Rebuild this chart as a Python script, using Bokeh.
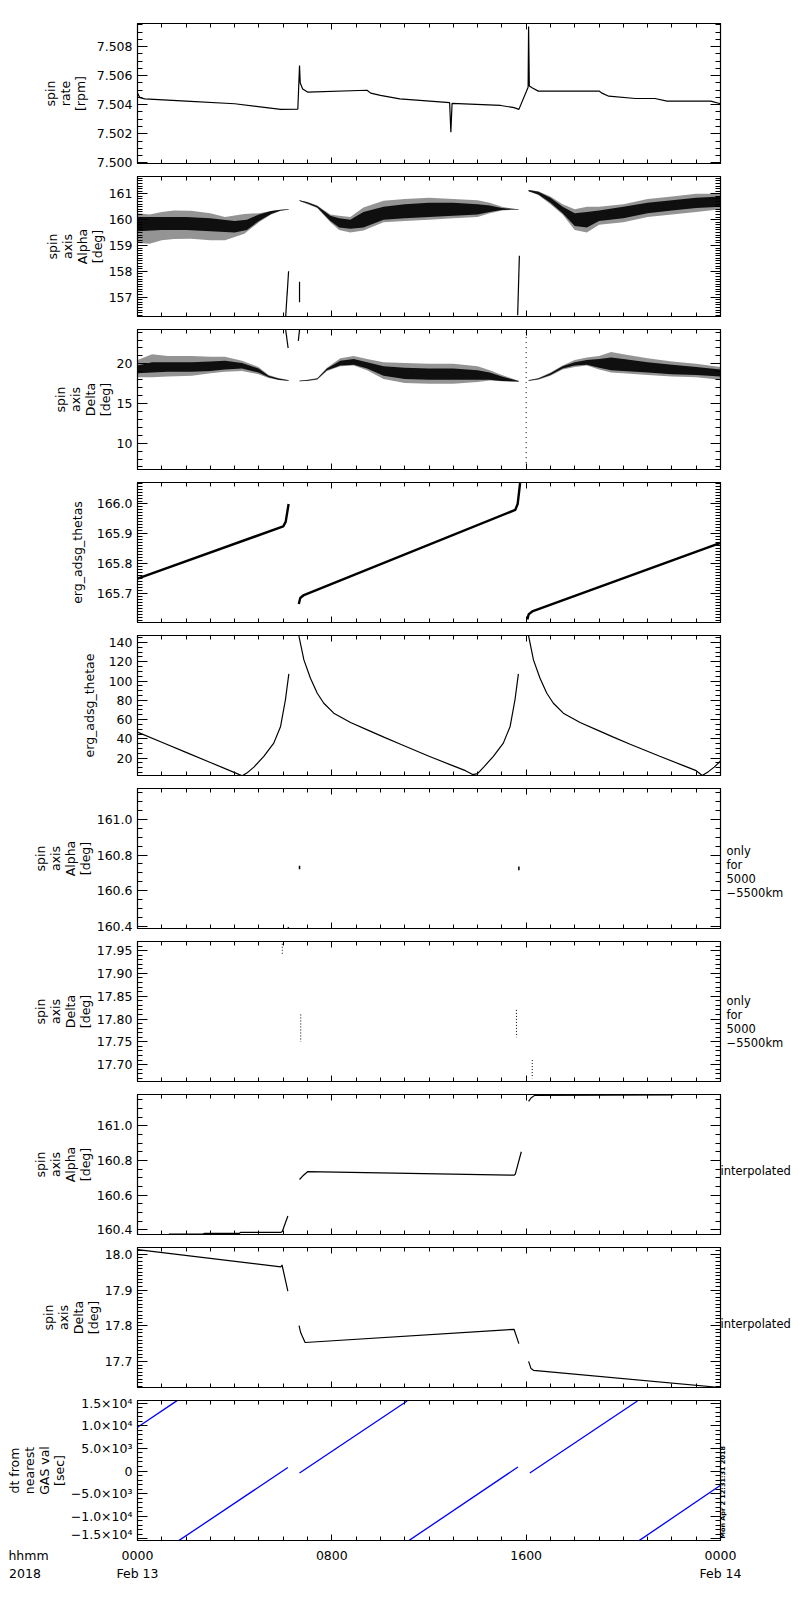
import math
from bokeh.plotting import figure
from bokeh.models import (LinearAxis, SingleIntervalTicker, FixedTicker, Range1d,
                          NumeralTickFormatter, CustomJSTickFormatter)
from bokeh.layouts import column, row
from bokeh.embed import file_html
from bokeh.resources import INLINE

nan = float("nan")

# ---------------- data (hours since 2018-02-13 00:00) ----------------
# panel 1: spin rate [rpm]
rate_t = [0, 0.1, 0.3, 2.0, 4.0, 5.9, 6.6, 6.67, 6.7, 6.8, 7.0, 9.45, 9.6, 10.0, 10.8,
          12.85, 12.9, 12.95, 14.95, 15.5, 15.7, 16.08, 16.1, 16.13, 16.26, 16.5, 19.0,
          19.1, 19.4, 20.5, 21.3, 21.8, 23.6, 24.0]
rate_v = [7.5048, 7.50448, 7.5044, 7.50425, 7.50407, 7.50368, 7.5037, 7.5067, 7.5055,
          7.50509, 7.50487, 7.5050, 7.5048, 7.50464, 7.50441, 7.50414, 7.5021, 7.5041,
          7.50395, 7.5038, 7.50368, 7.5052, 7.5094, 7.5053, 7.50516, 7.50494, 7.50494,
          7.50482, 7.50459, 7.50443, 7.50443, 7.50425, 7.50425, 7.50407]

# panel 2: spin axis Alpha [deg]  (outer envelope and dense core of the scatter)
a_t1 = [0, 0.5, 1.0, 1.5, 2.2, 3.0, 3.6, 4.4, 5.0, 5.5, 5.9, 6.22]
a_hi1 = [160.25, 160.2, 160.3, 160.35, 160.34, 160.25, 160.1, 160.22, 160.25, 160.33, 160.38, 160.4]
a_lo1 = [159.1, 159.07, 159.2, 159.25, 159.26, 159.2, 159.2, 159.45, 159.9, 160.2, 160.34, 160.38]
a_t2 = [6.67, 7.0, 7.4, 7.94, 8.3, 8.76, 9.3, 10.13, 11, 12, 13, 14, 14.5, 15.0, 15.4, 15.7]
a_hi2 = [160.75, 160.68, 160.55, 160.2, 160.15, 160.1, 160.47, 160.73, 160.8, 160.85, 160.8,
         160.75, 160.65, 160.5, 160.43, 160.4]
a_lo2 = [160.72, 160.6, 160.45, 159.9, 159.6, 159.5, 159.58, 159.9, 159.95, 160.0, 160.05,
         160.1, 160.25, 160.35, 160.38, 160.38]
a_t3 = [16.1, 16.5, 17.0, 17.5, 18.0, 18.5, 19.0, 20.0, 21.0, 22.0, 23.0, 24.0]
a_hi3 = [161.15, 161.1, 160.9, 160.6, 160.4, 160.5, 160.5, 160.6, 160.8, 160.9, 161.0, 161.0]
a_lo3 = [161.1, 160.95, 160.6, 160.2, 159.6, 159.5, 159.8, 159.9, 160.1, 160.2, 160.3, 160.4]
a_ct1 = [0, 1, 2, 3, 4, 4.5, 5.0, 5.5, 5.9, 6.22]
a_clo1 = [159.55, 159.6, 159.6, 159.55, 159.5, 159.6, 159.95, 160.22, 160.35, 160.38]
a_chi1 = [160.1, 160.1, 160.1, 160.05, 159.95, 160.0, 160.2, 160.33, 160.38, 160.4]
a_clo2 = [160.72, 160.62, 160.47, 159.95, 159.7, 159.65, 159.7, 160.0, 160.05, 160.1, 160.15,
          160.2, 160.3, 160.37, 160.39, 160.39]
a_chi2 = [160.75, 160.67, 160.53, 160.15, 160.05, 160.0, 160.3, 160.5, 160.6, 160.65, 160.65,
          160.6, 160.55, 160.45, 160.42, 160.4]
a_clo3 = [161.1, 160.97, 160.65, 160.25, 159.75, 159.7, 159.95, 160.05, 160.25, 160.35, 160.45, 160.5]
a_chi3 = [161.15, 161.08, 160.85, 160.5, 160.25, 160.3, 160.35, 160.5, 160.65, 160.75, 160.85, 160.9]
a_streak_t = [[6.1, 6.22], [6.67, 6.67], [15.65, 15.72]]
a_streak_v = [[156.25, 158.0], [157.6, 156.8], [156.3, 158.6]]

# panel 3: spin axis Delta [deg]
d_t1 = [0, 0.6, 1.25, 2.24, 3.0, 3.6, 4.3, 4.98, 5.4, 5.8, 6.22]
d_hi1 = [20.5, 21.2, 21.0, 21.0, 20.9, 20.9, 20.4, 19.6, 18.6, 18.2, 17.95]
d_lo1 = [18.3, 18.3, 18.4, 18.5, 18.8, 19.0, 19.1, 18.7, 18.2, 17.95, 17.85]
d_t2 = [6.67, 7.0, 7.4, 7.8, 8.35, 8.9, 9.45, 10.13, 11, 12, 13, 14, 14.5, 15.0, 15.7]
d_hi2 = [17.9, 18.0, 18.2, 19.5, 20.7, 21.0, 20.6, 20.2, 20.1, 20.0, 20.0, 19.7, 19.2, 18.6, 17.85]
d_lo2 = [17.8, 17.85, 18.0, 19.1, 19.7, 19.8, 19.2, 18.1, 17.6, 17.5, 17.5, 17.7, 17.9, 17.8, 17.75]
d_t3 = [16.1, 16.5, 17.0, 17.5, 18.0, 18.5, 19.0, 19.5, 20.0, 21.0, 22.0, 23.0, 24.0]
d_hi3 = [17.95, 18.2, 18.9, 19.8, 20.5, 20.8, 21.0, 21.5, 21.2, 20.7, 20.3, 20.0, 19.6]
d_lo3 = [17.85, 18.0, 18.5, 19.3, 19.6, 19.8, 19.3, 18.9, 18.8, 18.6, 18.4, 18.3, 18.0]
d_clo1 = [18.8, 18.9, 19.0, 19.0, 19.1, 19.3, 19.4, 18.9, 18.3, 18.0, 17.87]
d_chi1 = [19.8, 20.2, 20.2, 20.2, 20.3, 20.4, 20.1, 19.4, 18.5, 18.15, 17.93]
d_clo2 = [17.82, 17.87, 18.05, 19.2, 19.8, 19.9, 19.4, 18.5, 18.1, 18.0, 18.0, 18.0, 18.0, 17.85, 17.77]
d_chi2 = [17.88, 17.97, 18.15, 19.4, 20.4, 20.6, 20.2, 19.7, 19.5, 19.4, 19.4, 19.2, 18.9, 18.4, 17.83]
d_clo3 = [17.87, 18.05, 18.6, 19.4, 19.8, 19.9, 19.5, 19.2, 19.1, 18.9, 18.7, 18.6, 18.4]
d_chi3 = [17.93, 18.15, 18.8, 19.7, 20.2, 20.5, 20.6, 20.8, 20.6, 20.2, 19.9, 19.6, 19.3]
d_streak_t = [[6.1, 6.2], [6.67, 6.62]]
d_streak_v = [[24.3, 22.0], [24.3, 22.9]]
d_dot_t = [16.0, 16.0]
d_dot_v = [24.0, 7.0]

# panel 4: erg_adsg_thetas
ts_t = [0, 6.0, 6.1, 6.22, nan, 6.64, 6.7, 6.85, 15.55, 15.65, 15.75, nan, 16.05, 16.1, 16.25, 24]
ts_v = [165.75, 165.925, 165.94, 166.0, nan, 165.665, 165.685, 165.695, 165.98, 166.0, 166.07,
        nan, 165.613, 165.63, 165.64, 165.87]

# panel 5: erg_adsg_thetae
te_t = [0, 1, 2, 3, 4, 4.31, 4.5, 4.79, 5.2, 5.61, 5.89, 6.09, 6.23, nan, 6.64, 6.85, 7.12,
        7.4, 7.67, 8.08, 8.77, 9.46, 10.14, 10.83, 12, 13, 13.5, 13.8, 14.0, 14.25, 14.65,
        15.06, 15.34, 15.54, 15.68, nan, 16.1, 16.3, 16.57, 16.85, 17.12, 17.53, 18.22,
        18.91, 19.59, 20.28, 21.5, 22.5, 23.0, 23.25, 23.5, 23.74, 24]
te_v = [47, 36.5, 26, 15.5, 5, 1.7, 4.5, 10.7, 21.8, 35.6, 52.9, 80.6, 107.5, nan, 147.3, 122,
        103, 87.4, 77, 66.7, 57, 49.4, 41.8, 34.5, 22, 12, 7, 3, 4, 10.7, 21.8, 35.6, 52.9,
        80.6, 107.5, nan, 147, 122, 103, 87.4, 77, 66.7, 57, 49.4, 41.8, 34.5, 22, 12, 7, 2,
        6, 10.7, 17]

# panel 6: spin axis Alpha, only for 5000-5500 km
a6_t = [[6.67, 6.67], [15.7, 15.7], [6.2, 6.22]]
a6_v = [[160.72, 160.74], [160.715, 160.735], [160.39, 160.395]]

# panel 7: spin axis Delta, only for 5000-5500 km
d7_t = [[5.96, 5.96], [6.72, 6.72], [15.6, 15.6], [16.25, 16.25]]
d7_v = [[17.965, 17.94], [17.81, 17.75], [17.82, 17.76], [17.71, 17.67]]

# panel 8: interpolated Alpha
ai_t = [1.29, 2.7, 2.76, 4.2, 4.24, 5.9, 5.96, 6.19, nan, 6.67, 6.8, 7.0, 15.5, 15.55, 15.8,
        nan, 16.1, 16.2, 16.35, 22.07]
ai_v = [160.376, 160.376, 160.38, 160.38, 160.385, 160.385, 160.39, 160.48, nan, 160.69,
        160.71, 160.735, 160.715, 160.72, 160.85, nan, 161.14, 161.16, 161.175, 161.178]

# panel 9: interpolated Delta
di_t = [0, 5.9, 5.95, 6.19, nan, 6.65, 6.72, 6.9, 15.5, 15.7, nan, 16.1, 16.2, 16.3, 24]
di_v = [18.013, 17.965, 17.97, 17.897, nan, 17.80, 17.78, 17.753, 17.79, 17.75, nan, 17.70,
        17.68, 17.675, 17.627]

# panel 10: dt from nearest GAS val [sec]
dt_t = [0, 1.63, nan, 1.70, 6.19, nan, 6.67, 11.1, nan, 11.17, 15.66, nan, 16.15, 20.58, nan,
        20.65, 24.0]
dt_v = [9700, 15568, nan, -15400, 764, nan, -440, 15500, nan, -15400, 885, nan, -440, 15500,
        nan, -15400, -3164]

# time-axis labels (first and second line)
time_line1 = {-4.487: "hhmm", 0: "0000", 8: "0800", 16: "1600", 24: "0000"}
time_line2 = {-4.631: "2018", 0: "Feb 13", 24: "Feb 14"}
dt_tick_labels = {15000: "1.5\u00d710\u2074", 10000: "1.0\u00d710\u2074", 5000: "5.0\u00d710\u00b3",
                  0: "0", -5000: "\u22125.0\u00d710\u00b3", -10000: "\u22121.0\u00d710\u2074",
                  -15000: "\u22121.5\u00d710\u2074"}
only_text = " only\\nfor\\n5000\\n\\u22125500km"
interp_text = "interpolated"
stamp_text = "Mon Apr  2 12:31:31 2018"

# ---------------- styling ----------------
FONT = "DejaVu Sans"
TICK_FS = "12.5px"
LAB_FS = "12.5px"
LEFT_B, RIGHT_B, FW, FH = 137, 80, 583, 140
HOUR_PX = FW / 24.0


def blank_fmt():
    return CustomJSTickFormatter(code="return ''")


def blank_axis(ticker, xdir):
    ax = LinearAxis(ticker=ticker, formatter=blank_fmt())
    ax.major_label_text_font_size = "1px"
    ax.major_label_standoff = 0
    ax.major_tick_out = 0
    ax.minor_tick_out = 0
    if xdir:
        ax.major_tick_in = 6
        ax.minor_tick_in = 4
    else:
        ax.major_tick_in = 10
        ax.minor_tick_in = 5
    ax.axis_line_color = "black"
    ax.major_tick_line_color = "black"
    ax.minor_tick_line_color = "black"
    return ax


def text_axis_props(ax, size, standoff):
    ax.axis_line_color = None
    ax.major_tick_line_color = None
    ax.minor_tick_line_color = None
    ax.major_tick_in = 0
    ax.major_tick_out = 0
    ax.minor_tick_in = 0
    ax.minor_tick_out = 0
    ax.major_label_standoff = standoff
    ax.major_label_text_font = FONT
    ax.major_label_text_font_size = size
    ax.major_label_text_color = "black"
    ax.major_label_text_line_height = 1.0


def side_axis(p, yval, js_text, standoff, size="11.5px", orientation="horizontal", bold=False):
    ax = LinearAxis(ticker=FixedTicker(ticks=[yval], minor_ticks=[]),
                    formatter=CustomJSTickFormatter(code="return '%s'" % js_text))
    text_axis_props(ax, size, standoff)
    ax.major_label_orientation = orientation
    if bold:
        ax.major_label_text_font_style = "bold"
    p.add_layout(ax, "right")


def panel(ylabel, yr, major, nminor, fmt, top, bottom, lab_standoff):
    p = figure(frame_width=FW, frame_height=FH, x_range=Range1d(0, 24),
               y_range=Range1d(*yr), output_backend="svg", toolbar_location=None,
               min_border_left=LEFT_B, min_border_right=RIGHT_B, min_border_top=top,
               min_border_bottom=bottom, x_axis_location=None, y_axis_location=None)
    p.outline_line_color = "black"
    p.outline_line_width = 1.2
    p.grid.visible = False
    p.background_fill_color = "white"
    p.border_fill_color = "white"

    xt = SingleIntervalTicker(interval=8, num_minor_ticks=8)
    yt = SingleIntervalTicker(interval=major, num_minor_ticks=nminor)

    left = LinearAxis(ticker=yt, axis_label=ylabel)
    if isinstance(fmt, dict):
        left.major_label_overrides = fmt
    else:
        left.formatter = NumeralTickFormatter(format=fmt)
    left.major_tick_in = 10
    left.major_tick_out = 0
    left.minor_tick_in = 5
    left.minor_tick_out = 0
    left.major_label_standoff = 5
    left.major_label_text_font = FONT
    left.major_label_text_font_size = TICK_FS
    left.major_label_text_color = "black"
    left.axis_label_text_font = FONT
    left.axis_label_text_font_size = LAB_FS
    left.axis_label_text_font_style = "normal"
    left.axis_label_text_color = "black"
    left.axis_label_text_line_height = 1.0
    left.axis_label_standoff = lab_standoff
    left.axis_line_color = "black"
    p.add_layout(left, "left")
    p.add_layout(blank_axis(yt, False), "right")
    p.add_layout(blank_axis(xt, True), "above")
    p.add_layout(blank_axis(xt, True), "below")
    return p


def band(p, tt, lo, hi, alpha):
    p.varea(x=tt, y1=lo, y2=hi, fill_color="black", fill_alpha=alpha)


S1, S3, S4 = 9, 6, 1   # label standoffs for 1-, 3- and 4-line axis titles
figs = []

# 1 spin rate
p1 = panel("spin\nrate\n[rpm]", (7.49995, 7.5096), 0.002, 4, "0.000", 23, 6, S3)
p1.line(rate_t, rate_v, line_color="black", line_width=1.2)
figs.append(p1)

# 2 spin axis alpha
p2 = panel("spin\naxis\nAlpha\n[deg]", (156.25, 161.67), 1, 10, "0", 7, 6, S4)
for tt, lo, hi in ((a_t1, a_lo1, a_hi1), (a_t2, a_lo2, a_hi2), (a_t3, a_lo3, a_hi3)):
    band(p2, tt, lo, hi, 0.42)
for tt, lo, hi in ((a_ct1, a_clo1, a_chi1), (a_t2, a_clo2, a_chi2), (a_t3, a_clo3, a_chi3)):
    band(p2, tt, lo, hi, 0.9)
p2.multi_line(a_streak_t, a_streak_v, line_color="black", line_width=1.2)
figs.append(p2)

# 3 spin axis delta
p3 = panel("spin\naxis\nDelta\n[deg]", (6.68, 24.33), 5, 5, "0", 7, 6, S4)
for tt, lo, hi in ((d_t1, d_lo1, d_hi1), (d_t2, d_lo2, d_hi2), (d_t3, d_lo3, d_hi3)):
    band(p3, tt, lo, hi, 0.42)
for tt, lo, hi in ((d_t1, d_clo1, d_chi1), (d_t2, d_clo2, d_chi2), (d_t3, d_clo3, d_chi3)):
    band(p3, tt, lo, hi, 0.9)
p3.multi_line(d_streak_t, d_streak_v, line_color="black", line_width=1.2)
p3.line(d_dot_t, d_dot_v, line_color="black", line_width=1, line_dash="1 4")
figs.append(p3)

# 4 thetas
p4 = panel("erg_adsg_thetas", (165.603, 166.072), 0.1, 10, "0.0", 7, 6, S1)
p4.line(ts_t, ts_v, line_color="black", line_width=2.4)
figs.append(p4)

# 5 thetae
p5 = panel("erg_adsg_thetae", (2.0, 147.3), 20, 4, "0", 7, 6, S1)
p5.line(te_t, te_v, line_color="black", line_width=1.2)
figs.append(p5)

# 6 alpha 5000-5500 km
p6 = panel("spin\naxis\nAlpha\n[deg]", (160.387, 161.174), 0.2, 4, "0.0", 7, 6, S4)
p6.multi_line(a6_t, a6_v, line_color="black", line_width=1.5)
side_axis(p6, 160.702, only_text, 6)
figs.append(p6)

# 7 delta 5000-5500 km
p7 = panel("spin\naxis\nDelta\n[deg]", (17.663, 17.970), 0.05, 5, "0.00", 7, 6, S4)
p7.multi_line(d7_t, d7_v, line_color="black", line_width=1, line_dash="1 2")
side_axis(p7, 17.793, only_text, 6)
figs.append(p7)

# 8 interpolated alpha
p8 = panel("spin\naxis\nAlpha\n[deg]", (160.373, 161.18), 0.2, 4, "0.0", 7, 6, S4)
p8.line(ai_t, ai_v, line_color="black", line_width=1.2)
side_axis(p8, 160.738, interp_text, 0)
figs.append(p8)

# 9 interpolated delta
p9 = panel("spin\naxis\nDelta\n[deg]", (17.627, 18.019), 0.1, 10, "0.0", 7, 6, S4)
p9.line(di_t, di_v, line_color="black", line_width=1.2)
side_axis(p9, 17.805, interp_text, 0)
figs.append(p9)

# 10 dt
p10 = panel("dt from\nnearest\nGAS val\n[sec]", (-15376, 15600), 5000, 5, dt_tick_labels, 7, 1, S4)
p10.line(dt_t, dt_v, line_color="blue", line_width=1.3)
side_axis(p10, -14934, stamp_text, 3, size="6.5px", orientation=math.pi / 2, bold=True)
figs.append(p10)

# time-axis label strip, on the same hour scale as the panels above
x0 = -LEFT_B / HOUR_PX
x1 = 24 + RIGHT_B / HOUR_PX
p11 = figure(frame_width=LEFT_B + FW + RIGHT_B, frame_height=1, x_range=Range1d(x0, x1),
             y_range=Range1d(0, 1), output_backend="svg", toolbar_location=None,
             min_border_left=0, min_border_right=0, min_border_top=0, min_border_bottom=0,
             x_axis_location=None, y_axis_location=None)
p11.outline_line_color = None
p11.grid.visible = False
for labels, standoff in ((time_line1, 5), (time_line2, 0)):
    tax = LinearAxis(ticker=FixedTicker(ticks=list(labels.keys()), minor_ticks=[]),
                     major_label_overrides=labels)
    text_axis_props(tax, TICK_FS, standoff)
    p11.add_layout(tax, "below")

layout = column(column(*figs, spacing=0), row(p11), spacing=0)
open("out.html", "w").write(file_html(layout, INLINE))
